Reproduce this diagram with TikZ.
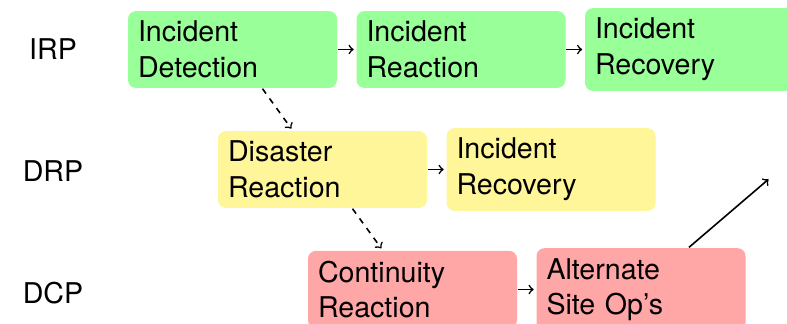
\documentclass[tikz,border=0pt]{standalone}
\usepackage{fontspec}
\setmainfont{TeX Gyre Heros}
\usetikzlibrary{positioning}
\definecolor{irpgreen}{RGB}{153,255,153}
\definecolor{drpyellow}{RGB}{255,245,153}
\definecolor{dcpred}{RGB}{255,166,166}

\begin{document}
\begin{tikzpicture}[->,>=to,shorten >=1pt,
                    node distance=114.25pt,on grid,line width=0.8pt,
                    every node/.style={font=\fontsize{14.3}{17.8}\selectfont},
                    plan/.style={rounded corners=4pt,text width=94.5pt,
                                 inner sep=5pt,align=left},
                    irp/.style={plan,fill=irpgreen},
                    drp/.style={plan,fill=drpyellow},
                    dcp/.style={plan,fill=dcpred}]
    \useasboundingbox (0,0) rectangle (393.5pt,-162pt);

    \node (lIRP) at (26.5pt,-24.75pt) {IRP};
    \node (lDRP) at (26.5pt,-85.5pt)  {DRP};
    \node (lDCP) at (26.5pt,-146.75pt) {DCP};

    \node[irp] (A) at (116.25pt,-24.75pt)           {Incident\\Detection};
    \node[irp] (B) [right=of A]                     {Incident\\Reaction};
    \node[irp] (C) [right=of B]                     {Incident\\Recovery};
    \node[drp] (D) [below right=60pt and 45pt of A] {Disaster\\Reaction};
    \node[drp] (E) [right=of D]                     {Incident\\Recovery};
    \node[dcp] (F) [below right=60pt and 45pt of D] {Continuity\\Reaction};
    \node[dcp] (G) [right=of F]                     {Alternate\\Site Op's};
    \coordinate (H) at (385pt,-89pt);

    \path
        (A) edge (B)
        (B) edge (C)
        (D) edge (E)
        (F) edge (G)
        ([xshift=15pt]A.south) edge [dashed] ([xshift=-15pt]D.north)
        ([xshift=15pt]D.south) edge [dashed] ([xshift=-15pt]F.north)
        ([xshift=24pt]G.north) edge (H)
        ;
\end{tikzpicture}
\end{document}
